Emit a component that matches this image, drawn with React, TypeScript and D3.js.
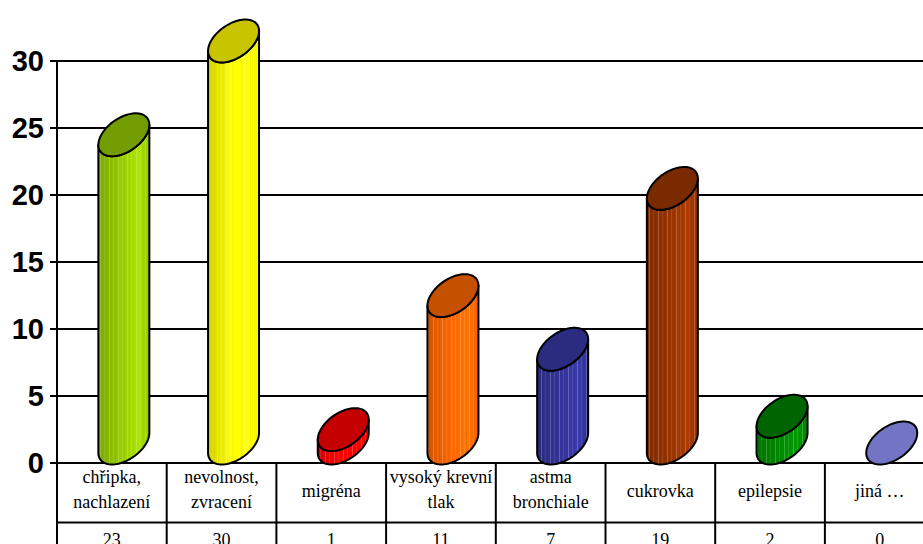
import React from "react";
import * as d3 from "d3";

// Cases by diagnosis, drawn as 3D cylinders above a data table
const categories: string[][] = [
  ["chřipka,", "nachlazení"],
  ["nevolnost,", "zvracení"],
  ["migréna"],
  ["vysoký krevní", "tlak"],
  ["astma", "bronchiale"],
  ["cukrovka"],
  ["epilepsie"],
  ["jiná …"],
];
const values = [23, 30, 1, 11, 7, 19, 2, 0];
const sideColors = ["#99cc00", "#ffff00", "#ff0000", "#ff6600", "#333399", "#993300", "#008a00", "#7777cc"];
const topColors = ["#739c00", "#c8c400", "#c40000", "#c45000", "#2b2b80", "#7a2a00", "#006400", "#7474c4"];
const yTicks = [0, 5, 10, 15, 20, 25, 30];

const W = 923;
const H = 544;
const left = 57;
const colW = 109.7;
const y0 = 463;
const yTop = 61;

const serif = "'Liberation Serif', 'Times New Roman', Times, serif";
const sans = "'Liberation Sans', Arial, Helvetica, sans-serif";

export default function App() {
  const x = d3
    .scaleBand<number>()
    .domain(d3.range(categories.length))
    .range([left, left + colW * categories.length])
    .paddingInner(0)
    .paddingOuter(0);
  const y = d3.scaleLinear().domain([0, 30]).range([y0, yTop]);

  // ellipse parameters of the projected circular cross-section
  const A = 25.5; // horizontal half-width
  const B = -10; // tilt of the major axis
  const C = 19; // depth half-height
  const depth = 20; // cylinder sits this far behind the front plane
  const shift = 12;

  const ell = (cx: number, cy: number, t: number): [number, number] => [
    cx + A * Math.cos(t),
    cy + B * Math.cos(t) + C * Math.sin(t),
  ];

  const line = d3.line<[number, number]>();

  const fullEllipse = (cx: number, cy: number) => {
    const pts = d3.range(0, 73).map((i) => ell(cx, cy, (i / 72) * Math.PI * 2));
    return line(pts) + "Z";
  };

  const sidePath = (cx: number, cyT: number, cyB: number) => {
    const pts: [number, number][] = [];
    pts.push(ell(cx, cyT, Math.PI));
    for (let i = 0; i <= 36; i++) pts.push(ell(cx, cyB, Math.PI - (i / 36) * Math.PI));
    for (let i = 0; i <= 36; i++) pts.push(ell(cx, cyT, (i / 36) * Math.PI));
    return line(pts) + "Z";
  };

  const bw = x.bandwidth();

  return (
    <svg
      width={W}
      height={H}
      style={{ position: "absolute", left: 0, top: 0, background: "#fff" }}
    >
      <defs>
        {sideColors.map((c, i) => {
          const base = d3.color(c)!;
          return (
            <linearGradient key={i} id={`side${i}`} x1="0" x2="1" y1="0" y2="0">
              <stop offset="0" stopColor={base.darker(0.55).formatHex()} />
              <stop offset="0.45" stopColor={base.formatHex()} />
              <stop offset="0.8" stopColor={base.brighter(0.35).formatHex()} />
              <stop offset="1" stopColor={base.darker(0.1).formatHex()} />
            </linearGradient>
          );
        })}
        <pattern id="stripes" width="9" height="10" patternUnits="userSpaceOnUse">
          <line x1="1.5" x2="1.5" y1="0" y2="10" stroke="#fff" strokeOpacity="0.28" strokeWidth="0.8" />
          <line x1="5.5" x2="5.5" y1="0" y2="10" stroke="#fff" strokeOpacity="0.18" strokeWidth="0.6" />
          <line x1="7.5" x2="7.5" y1="0" y2="10" stroke="#000" strokeOpacity="0.06" strokeWidth="0.6" />
        </pattern>
      </defs>

      {/* horizontal gridlines */}
      {yTicks.map((t) => (
        <g key={t}>
          <line x1={left} x2={W} y1={y(t)} y2={y(t)} stroke="#000" strokeWidth={2} />
          <line x1={left - 7} x2={left} y1={y(t)} y2={y(t)} stroke="#000" strokeWidth={2} />
          <text
            x={44}
            y={y(t)}
            dy="0.36em"
            textAnchor="end"
            style={{ fontFamily: sans, fontWeight: "bold", fontSize: 29 }}
          >
            {t}
          </text>
        </g>
      ))}

      {/* value axis */}
      <line x1={left} x2={left} y1={yTop} y2={H} stroke="#000" strokeWidth={2} />

      {/* cylinders */}
      {values.map((v, i) => {
        const cx = (x(i) as number) + bw / 2 + shift;
        const cyB = y(0) - depth;
        const cyT = y(v) - depth;
        return (
          <g key={i}>
            {v > 0 && (
              <>
                <path d={sidePath(cx, cyT, cyB)} fill={`url(#side${i})`} />
                <path d={sidePath(cx, cyT, cyB)} fill="url(#stripes)" stroke="#000" strokeWidth={2} strokeLinejoin="round" />
              </>
            )}
            <path d={fullEllipse(cx, cyT)} fill={topColors[i]} stroke="#000" strokeWidth={2} />
          </g>
        );
      })}

      {/* data table */}
      <line x1={left} x2={W} y1={522.5} y2={522.5} stroke="#000" strokeWidth={2} />
      {categories.map((_, i) => (
        <line
          key={i}
          x1={(x(i) as number) + bw}
          x2={(x(i) as number) + bw}
          y1={y0}
          y2={H}
          stroke="#000"
          strokeWidth={2}
        />
      ))}
      {categories.map((lines, i) => {
        const cx = (x(i) as number) + bw / 2;
        const baselines = lines.length === 2 ? [483, 508] : [497];
        return (
          <g key={i}>
            {lines.map((l, j) => (
              <text key={j} x={cx} y={baselines[j]} textAnchor="middle" style={{ fontFamily: serif, fontSize: 18 }}>
                {l}
              </text>
            ))}
            <text x={cx} y={546} textAnchor="middle" style={{ fontFamily: serif, fontSize: 18 }}>
              {values[i]}
            </text>
          </g>
        );
      })}
    </svg>
  );
}
